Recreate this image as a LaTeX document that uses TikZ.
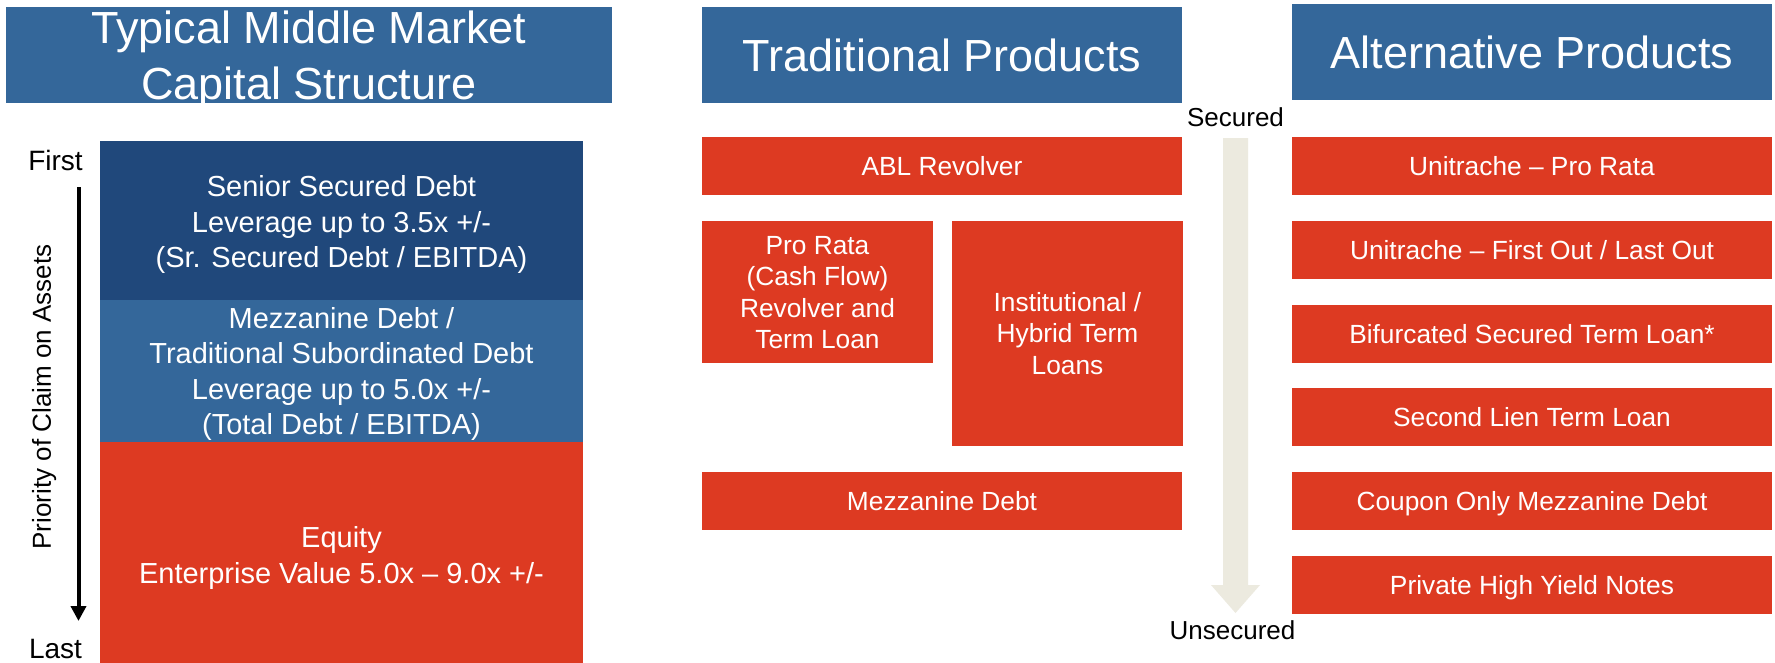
\documentclass[tikz,border=0pt]{standalone}
\usepackage{fontspec}
\setmainfont{Liberation Sans}
\usetikzlibrary{arrows.meta}
\definecolor{hdrblue}{HTML}{34679A}
\definecolor{darkblue}{HTML}{20487B}
\definecolor{prodred}{HTML}{DD3A22}
\definecolor{lightarrow}{HTML}{ECEADF}
% a line whose box is centred on its cap height (glyph extents ignored)
\newcommand{\capstr}{\rule[-0.034em]{0pt}{0.784em}}
\newcommand{\capline}[1]{\capstr\smash{#1}}
\tikzset{
  basebox/.style={inner sep=0pt, outer sep=0pt, text=white, align=center},
  titlebox/.style={basebox, fill=hdrblue, font=\fontsize{45}{56}\selectfont},
  stackbox/.style={basebox, font=\fontsize{29}{35.5}\selectfont},
  prodbox/.style={basebox, fill=prodred, font=\fontsize{26.3}{31.5}\selectfont},
  sidelabel/.style={inner sep=0pt, text=black, font=\fontsize{28}{32}\selectfont},
  scalelabel/.style={inner sep=0pt, text=black, font=\fontsize{26}{30}\selectfont},
  wh/.style 2 args={minimum width=#1pt, minimum height=#2pt},
}
\begin{document}
\begin{tikzpicture}[x=1pt,y=-1pt]
\useasboundingbox (0,0) rectangle (1775,662);
\fill[white] (0,0) rectangle (1775,662);

% headers
\node[titlebox, wh={606}{96}] (hleft) at (309,55) {\capline{Typical Middle Market}\\\capline{Capital Structure}};
\node[titlebox, wh={480}{96}] (htrad) at (942,55) {\capline{Traditional Products}};
\node[titlebox, wh={480}{96}] (halt) at (1532,52) {\capline{Alternative Products}};

% capital structure stack
\node[stackbox, fill=darkblue, wh={483}{162}] (senior) at (341.5,222)
  {\capline{Senior Secured Debt}\\\capline{Leverage up to 3.5x +/-}\\\capline{(Sr. Secured Debt / EBITDA)}};
\node[stackbox, fill=hdrblue, wh={483}{142}] (mezz) at (341.5,371)
  {\capline{Mezzanine Debt /}\\\capline{Traditional Subordinated Debt}\\\capline{Leverage up to 5.0x +/-}\\\capline{(Total Debt / EBITDA)}};
\node[stackbox, fill=prodred, wh={483}{226}] (equity) at (341.5,555)
  {\capline{Equity}\\\capline{Enterprise Value 5.0x -- 9.0x +/-}};

% priority arrow
\node[sidelabel] (first) at (55.5,160) {\capline{First}};
\node[sidelabel] (last) at (55.5,648) {\capline{Last}};
\coordinate (parrtop) at (78.5,187);
\coordinate (parrbot) at (78.5,621);
\draw[line width=4pt, -{Triangle[width=15pt,length=15pt]}] (parrtop) -- (parrbot);
\node[scalelabel, rotate=90] (prio) at (41.5,397) {\capline{Priority of Claim on Assets}};

% traditional products
\node[prodbox, wh={480}{58}] (abl) at (942,166) {\capline{ABL Revolver}};
\node[prodbox, wh={231}{142}] (prorata) at (817.5,292)
  {\capline{Pro Rata}\\\capline{(Cash Flow)}\\\capline{Revolver and}\\\capline{Term Loan}};
\node[prodbox, wh={231}{225}] (inst) at (1067.5,333.5)
  {\capline{Institutional /}\\\capline{Hybrid Term}\\\capline{Loans}};
\node[prodbox, wh={480}{58}] (tmezz) at (942,501) {\capline{Mezzanine Debt}};

% secured / unsecured scale
\node[scalelabel] (sec) at (1235.5,117) {\capline{Secured}};
\node[scalelabel] (unsec) at (1232.5,630) {\capline{Unsecured}};
\fill[lightarrow] (1223,138) -- (1248,138) -- (1248,585) -- (1260,585) -- (1235.5,613)
  -- (1211,585) -- (1223,585) -- cycle;

% alternative products
\node[prodbox, wh={480}{58}] (a1) at (1532,166) {\capline{Unitrache -- Pro Rata}};
\node[prodbox, wh={480}{58}] (a2) at (1532,250) {\capline{Unitrache -- First Out / Last Out}};
\node[prodbox, wh={480}{58}] (a3) at (1532,334) {\capline{Bifurcated Secured Term Loan*}};
\node[prodbox, wh={480}{58}] (a4) at (1532,417) {\capline{Second Lien Term Loan}};
\node[prodbox, wh={480}{58}] (a5) at (1532,501) {\capline{Coupon Only Mezzanine Debt}};
\node[prodbox, wh={480}{58}] (a6) at (1532,585) {\capline{Private High Yield Notes}};
\end{tikzpicture}
\end{document}
